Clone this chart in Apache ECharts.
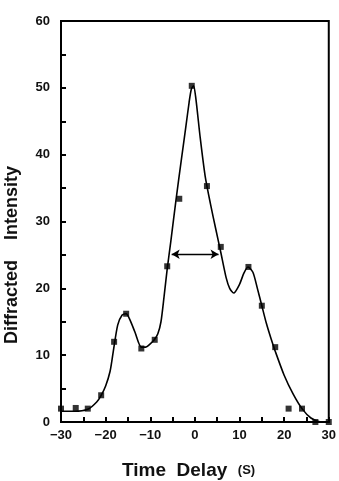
<!DOCTYPE html>
<html>
<head>
<meta charset="utf-8">
<script src="https://cdn.jsdelivr.net/npm/echarts@6/dist/echarts.min.js"></script>
<style>
  html, body { margin: 0; padding: 0; background: #fff; }
  #chart { width: 339px; height: 481px; }
</style>
</head>
<body>
<div id="chart"></div>
<script>
// measured points (time delay in s, diffracted intensity)
var pointX = [-30, -26.7, -24, -21, -18.1, -15.4, -12, -9, -6.2, -3.5, -0.7, 2.7, 5.8, 12, 15, 18, 21, 24, 27, 30];
var pointY = [2, 2.1, 2, 4, 12, 16.2, 11, 12.3, 23.3, 33.4, 50.3, 35.3, 26.2, 23.2, 17.4, 11.2, 2, 2, 0, 0];

// fitted curve
var curveX = [-30, -27, -24, -22, -21, -20, -19, -18.3, -17.3, -16.3, -15.4, -14.5, -13.4, -12, -11, -10, -9.1, -8.3, -7.6, -6.9, -6.2, -5.4, -4.2, -3, -2, -1.3, -0.8, -0.3, 0.2, 1.2, 2.3, 3.5, 4.7, 5.8, 7, 7.8, 8.7, 10, 11, 11.9, 13, 14, 15, 16, 17, 18, 20, 22, 24, 26, 28, 30];
var curveY = [1.6, 1.6, 1.9, 3.0, 4.0, 5.4, 7.6, 10.5, 14.5, 16.0, 16.2, 15.2, 13.4, 11.2, 11.2, 11.7, 12.3, 13.2, 15.0, 18.8, 22.9, 27.0, 33.4, 39.4, 44.3, 47.8, 49.8, 50.3, 48.5, 42.5, 36.8, 32.6, 28.8, 25.4, 21.6, 20.0, 19.3, 20.6, 22.3, 23.2, 22.4, 20.0, 17.4, 14.8, 12.6, 10.6, 7.0, 4.2, 2.0, 0.6, 0.05, 0];

// full width at half maximum arrow
var fwhmFrom = [-5.2, 25.1];
var fwhmTo = [5.3, 25.1];

var xTicks = ['-30', '-20', '-10', '0', '10', '20', '30'];

function zip(a, b) {
  var out = [];
  for (var i = 0; i < a.length; i++) out.push([a[i], b[i]]);
  return out;
}

var font = '"Liberation Sans", Arial, Helvetica, sans-serif';

var chart = echarts.init(document.getElementById('chart'));

var option = {
  animation: false,
  backgroundColor: '#fff',
  grid: {
    left: 61, top: 21, right: 6, bottom: 59,
    show: true, borderColor: '#000', borderWidth: 2
  },
  xAxis: {
    type: 'value',
    min: -30, max: 30, interval: 5,
    axisLine: { onZero: false, lineStyle: { color: '#000', width: 2 } },
    axisTick: { inside: true, length: 5, lineStyle: { color: '#000', width: 2 } },
    splitLine: { show: false },
    axisLabel: {
      color: '#111', fontFamily: font, fontWeight: 'bold', fontSize: 13, margin: 7,
      formatter: function (v) {
        return xTicks.indexOf(String(v)) >= 0 ? String(v).replace('-', '\u2212') : '';
      }
    }
  },
  yAxis: {
    type: 'value',
    min: 0, max: 60, interval: 5,
    axisLine: { onZero: false, lineStyle: { color: '#000', width: 2 } },
    axisTick: { inside: true, length: 5, lineStyle: { color: '#000', width: 2 } },
    splitLine: { show: false },
    axisLabel: {
      color: '#111', fontFamily: font, fontWeight: 'bold', fontSize: 13, margin: 11,
      formatter: function (v) { return v % 10 === 0 ? String(v) : ''; }
    }
  },
  graphic: [
    {
      type: 'text', left: 3, top: 166, rotation: Math.PI / 2,
      style: {
        text: 'Diffracted    Intensity', fill: '#111',
        font: 'bold 18px ' + font
      }
    },
    {
      type: 'text', left: 122, top: 461,
      style: {
        text: '{a|Time  Delay  }{b|(S)}',
        rich: {
          a: { fontFamily: font, fontWeight: 'bold', fontSize: 19, fill: '#111' },
          b: { fontFamily: font, fontWeight: 'bold', fontSize: 13, fill: '#111' }
        }
      }
    }
  ],
  series: [
    {
      type: 'line',
      data: zip(curveX, curveY),
      smooth: 0.25,
      showSymbol: false,
      lineStyle: { color: '#000', width: 1.6 },
      markLine: {
        silent: true,
        symbol: ['arrow', 'arrow'],
        symbolSize: [7, 8],
        label: { show: false },
        lineStyle: { color: '#000', width: 1.3, type: 'solid' },
        data: [[{ coord: fwhmFrom }, { coord: fwhmTo }]]
      }
    },
    {
      type: 'scatter',
      data: zip(pointX, pointY),
      symbol: 'rect',
      symbolSize: 6,
      itemStyle: { color: '#000' }
    }
  ]
};

chart.setOption(option);
</script>
</body>
</html>
